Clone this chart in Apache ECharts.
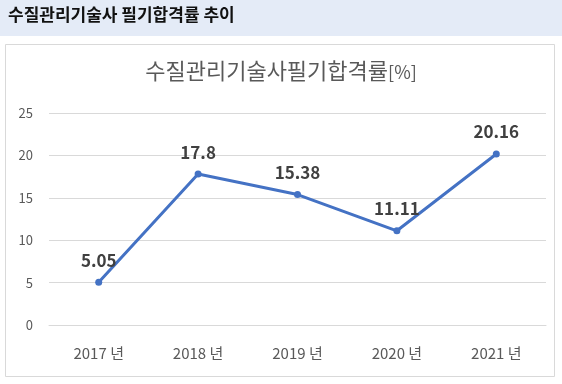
<!DOCTYPE html>
<html>
<head>
<meta charset="utf-8">
<script src="https://cdn.jsdelivr.net/npm/echarts@6/dist/echarts.min.js"></script>
<style>
html,body{margin:0;padding:0;background:#fff;}
#c{width:562px;height:384px;}
</style>
</head>
<body>
<div id="c"></div>
<script>
const categories = ['2017 년', '2018 년', '2019 년', '2020 년', '2021 년'];
const passRates = [5.05, 17.8, 15.38, 11.11, 20.16];
const yTicks = [0, 5, 10, 15, 20, 25];
const headerText = '수질관리기술사 필기합격률 추이';

const chart = echarts.init(document.getElementById('c'), null, {renderer: 'canvas'});
const FONT = '"Noto Sans CJK KR", "Noto Sans", sans-serif';
chart.setOption({
  animation: false,
  backgroundColor: '#fff',
  textStyle: {fontFamily: FONT},
  graphic: [
    {type: 'rect', shape: {x: 0, y: 0, width: 562, height: 36}, style: {fill: '#e4ebf7'}, z: -1},
    {type: 'text', left: 8, top: 6, style: {text: headerText, fill: '#111', font: 'bold 17px ' + FONT}},
    {type: 'rect', shape: {x: 5.5, y: 44.5, width: 549, height: 332}, style: {fill: 'none', stroke: '#d9d9d9', lineWidth: 1}, z: -1}
  ],
  title: {
    text: '{a|수질관리기술사필기합격률}{b|[%]}',
    left: 'center',
    top: 55,
    textStyle: {
      fontWeight: 'normal',
      rich: {
        a: {fontSize: 22, color: '#595959', fontFamily: FONT, fontWeight: 'normal'},
        b: {fontSize: 18, color: '#595959', fontFamily: FONT, fontWeight: 'normal', padding: [3, 0, 0, 0]}
      }
    }
  },
  grid: {left: 49, right: 16, top: 113, bottom: 59},
  xAxis: {
    type: 'category',
    data: categories,
    boundaryGap: true,
    axisLine: {show: true, lineStyle: {color: '#d9d9d9'}},
    axisTick: {show: false},
    axisLabel: {color: '#595959', fontSize: 15, margin: 21, fontFamily: FONT}
  },
  yAxis: {
    type: 'value',
    min: yTicks[0],
    max: yTicks[yTicks.length - 1],
    interval: 5,
    axisLine: {show: false},
    axisTick: {show: false},
    splitLine: {lineStyle: {color: '#d9d9d9'}},
    axisLabel: {color: '#595959', fontSize: 13, margin: 16, fontFamily: FONT}
  },
  series: [{
    type: 'line',
    data: passRates,
    symbol: 'circle',
    symbolSize: 7,
    lineStyle: {color: '#4472c4', width: 3},
    itemStyle: {color: '#4472c4'},
    label: {
      show: true,
      position: 'top',
      distance: 10,
      color: '#404040',
      fontSize: 17,
      fontWeight: 'bold',
      fontFamily: FONT
    }
  }]
});
</script>
</body>
</html>
